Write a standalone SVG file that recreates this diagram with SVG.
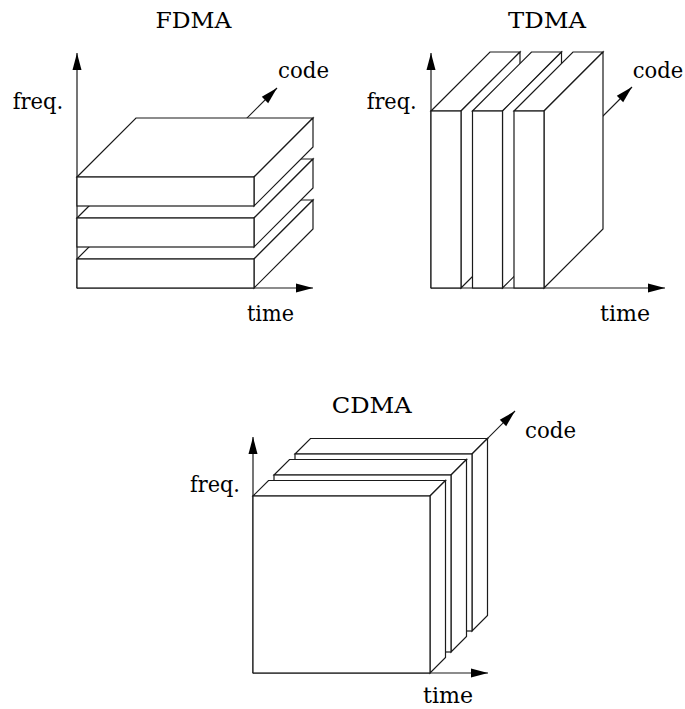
<svg xmlns="http://www.w3.org/2000/svg" width="685" height="709" viewBox="0 0 685 709">
<style>
  .f { fill: #ffffff; stroke: #1a1a1a; stroke-width: 1.2; stroke-linejoin: miter; }
  .ax { fill: none; stroke: #1a1a1a; stroke-width: 1.2; }
</style>
<defs>
  <marker id="ah" markerUnits="userSpaceOnUse" markerWidth="18" markerHeight="10" refX="17" refY="4.5" orient="auto" viewBox="0 0 18 9">
    <path d="M0,0 L17,4.5 L0,9 z" fill="#000"/>
  </marker>
</defs>
<rect width="685" height="709" fill="#ffffff"/>

<!-- Connectors (axes) -->
<g id="connectors">
  <line class="ax" x1="77" y1="288" x2="77" y2="53" marker-end="url(#ah)"/>
  <line class="ax" x1="77" y1="288" x2="313" y2="288" marker-end="url(#ah)"/>
  <line class="ax" x1="77" y1="288" x2="277" y2="88" marker-end="url(#ah)"/>

  <line class="ax" x1="431" y1="288" x2="431" y2="53" marker-end="url(#ah)"/>
  <line class="ax" x1="431" y1="288" x2="665" y2="288" marker-end="url(#ah)"/>
  <line class="ax" x1="431" y1="288" x2="632" y2="87" marker-end="url(#ah)"/>

  <line class="ax" x1="253" y1="673" x2="253" y2="437" marker-end="url(#ah)"/>
  <line class="ax" x1="253" y1="673" x2="488" y2="673" marker-end="url(#ah)"/>
  <line class="ax" x1="253" y1="673" x2="515" y2="411" marker-end="url(#ah)"/>
</g>

<!-- FDMA boxes (bottom first) -->
<g id="fdma-box3">
  <polygon class="f" points="77,259 254,259 313,200 136,200"/>
  <polygon class="f" points="254,259 313,200 313,229 254,288"/>
  <rect class="f" x="77" y="259" width="177" height="29"/>
</g>
<g id="fdma-box2">
  <polygon class="f" points="77,218 254,218 313,159 136,159"/>
  <polygon class="f" points="254,218 313,159 313,188 254,247"/>
  <rect class="f" x="77" y="218" width="177" height="29"/>
</g>
<g id="fdma-box1">
  <polygon class="f" points="77,177 254,177 313,118 136,118"/>
  <polygon class="f" points="254,177 313,118 313,147 254,206"/>
  <rect class="f" x="77" y="177" width="177" height="29"/>
</g>

<!-- TDMA slabs (left first) -->
<g id="tdma-slab1">
  <polygon class="f" points="431,111 461,111 520,52 490,52"/>
  <polygon class="f" points="461,111 520,52 520,229 461,288"/>
  <rect class="f" x="431" y="111" width="30" height="177"/>
</g>
<g id="tdma-slab2">
  <polygon class="f" points="472.5,111 502.5,111 561.5,52 531.5,52"/>
  <polygon class="f" points="502.5,111 561.5,52 561.5,229 502.5,288"/>
  <rect class="f" x="472.5" y="111" width="30" height="177"/>
</g>
<g id="tdma-slab3">
  <polygon class="f" points="514,111 544,111 603,52 573,52"/>
  <polygon class="f" points="544,111 603,52 603,229 544,288"/>
  <rect class="f" x="514" y="111" width="30" height="177"/>
</g>

<!-- CDMA squares (back first) -->
<g id="cdma-sq3">
  <polygon class="f" points="295,454 472,454 487.5,438.5 310.5,438.5"/>
  <polygon class="f" points="472,454 487.5,438.5 487.5,615.5 472,631"/>
  <rect class="f" x="295" y="454" width="177" height="177"/>
</g>
<g id="cdma-sq2">
  <polygon class="f" points="274,475 451,475 466.5,459.5 289.5,459.5"/>
  <polygon class="f" points="451,475 466.5,459.5 466.5,636.5 451,652"/>
  <rect class="f" x="274" y="475" width="177" height="177"/>
</g>
<g id="cdma-sq1">
  <polygon class="f" points="253,496 430,496 445.5,480.5 268.5,480.5"/>
  <polygon class="f" points="430,496 445.5,480.5 445.5,657.5 430,673"/>
  <rect class="f" x="253" y="496" width="177" height="177"/>
</g>

<!-- Texts -->
<g font-family="'DejaVu Serif', 'Liberation Serif', serif" font-size="22" fill="#000">
  <text x="155.5" y="28" textLength="76" lengthAdjust="spacingAndGlyphs">FDMA</text>
  <text x="508" y="28" textLength="78" lengthAdjust="spacingAndGlyphs">TDMA</text>
  <text x="331.7" y="413" textLength="80" lengthAdjust="spacingAndGlyphs">CDMA</text>

  <text x="12.7" y="109" textLength="50.6" lengthAdjust="spacingAndGlyphs">freq.</text>
  <text x="278" y="78" textLength="51" lengthAdjust="spacingAndGlyphs">code</text>
  <text x="247" y="321" textLength="47" lengthAdjust="spacingAndGlyphs">time</text>

  <text x="366.7" y="108.5" textLength="50" lengthAdjust="spacingAndGlyphs">freq.</text>
  <text x="632.7" y="77.5" textLength="50.5" lengthAdjust="spacingAndGlyphs">code</text>
  <text x="600" y="321" textLength="50" lengthAdjust="spacingAndGlyphs">time</text>

  <text x="190" y="492" textLength="50" lengthAdjust="spacingAndGlyphs">freq.</text>
  <text x="525" y="438" textLength="51" lengthAdjust="spacingAndGlyphs">code</text>
  <text x="423" y="703" textLength="50" lengthAdjust="spacingAndGlyphs">time</text>
</g>
</svg>
